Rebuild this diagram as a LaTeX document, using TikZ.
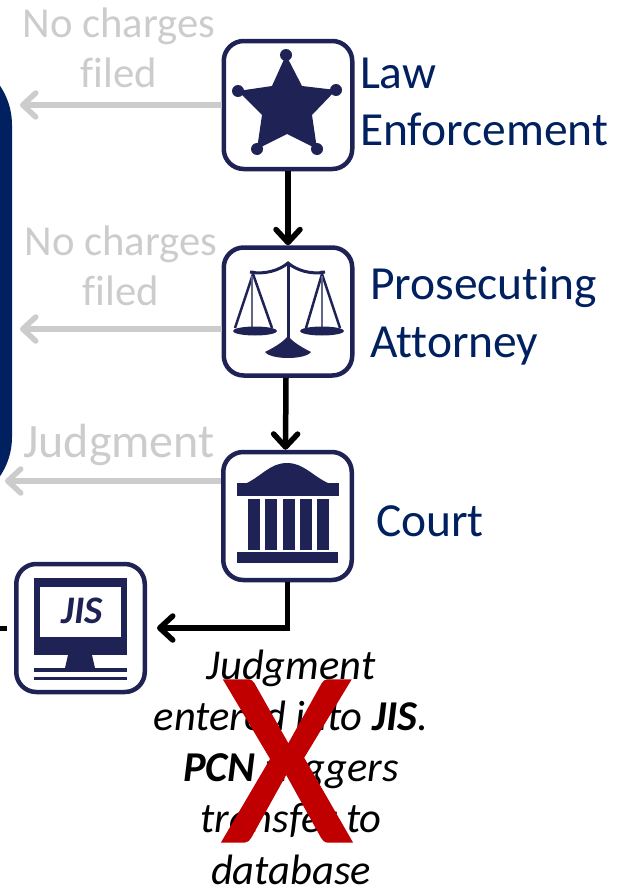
\documentclass[tikz,border=0pt]{standalone}
\usepackage{fontspec}
\setmainfont{Carlito}[Ligatures=NoCommon]
\newfontfamily\crossfont{Carlito}[FakeBold=1.2]
\usetikzlibrary{arrows.meta}

\definecolor{iconblue}{HTML}{1F2255}
\definecolor{textblue}{HTML}{002060}
\definecolor{fadegray}{HTML}{CCCCCC}
\definecolor{crossred}{HTML}{C00000}

\tikzset{
    iconbox/.style={draw=iconblue, line width=4.5, rounded corners=20, minimum width=128.5, minimum height=128, inner sep=0},
    agencybox/.style={draw=textblue, line width=12, rounded corners=64, minimum width=200, minimum height=440, inner sep=0},
    flow/.style={line width=5.5, black, -{Straight Barb[length=13, width=24, round]}},
    fadeflow/.style={line width=5.5, fadegray, -{Straight Barb[length=13, width=24, round]}},
    role/.style={anchor=west, align=left, text=textblue, font=\fontsize{47.5}{57.5}\selectfont},
    fadetext/.style={align=center, text=fadegray, font=\fontsize{42.7}{50.5}\selectfont},
    remark/.style={align=center, font=\fontsize{42.5}{51.2}\selectfont\itshape},
}

\begin{document}
\begin{tikzpicture}[x=1pt, y=-1pt]
    \clip (0,0) rectangle (628,886);

    % box cut by the left edge
    \node[agencybox] (agency) at (-94,281) {};

    % icon boxes
    \node[iconbox] (police) at (288,105) {};
    \node[iconbox] (attorney) at (288,311.5) {};
    \node[iconbox] (court) at (287.5,516) {};
    \node[iconbox] (jis) at (80.5,628) {};

    % star
    \fill[iconblue] (286,55) -- (302,86) -- (336,90) -- (312,115) -- (317,149) -- (287,134) -- (257,149) -- (262,115) -- (238,91) -- (272,86) -- cycle;
    \foreach \px/\py in {286/55, 336/90, 317/149, 257/149, 238/91}
        \fill[iconblue] (\px,\py) circle (6);

    % scales
    \draw[iconblue, line width=3] (288,263) -- (288,340);
    \draw[iconblue, line width=3] (250,272) .. controls (265,275) and (280,270) .. (288,263) .. controls (296,270) and (311,275) .. (325,272);
    \draw[iconblue, line width=2.5] (235,328) -- (253,274) -- (272,328);
    \draw[iconblue, line width=2.5] (306,328) -- (322,274) -- (340,328);
    \draw[iconblue!70, line width=2] (252,276) -- (252,328);
    \draw[iconblue!70, line width=2] (322,276) -- (322,328);
    \fill[iconblue] (255,331) ellipse (22 and 4.5);
    \fill[iconblue] (322,331) ellipse (22 and 4.5);
    \fill[iconblue] (265,352) .. controls (275,347) and (283,342) .. (288,336) .. controls (293,342) and (301,347) .. (311,352) .. controls (305,360) and (271,360) .. (265,352) -- cycle;

    % court building
    \fill[iconblue] (245,484) .. controls (262,476) and (270,463) .. (287,463) .. controls (304,463) and (312,476) .. (330,484) -- cycle;
    \fill[iconblue] (237,483) rectangle (339,496);
    \foreach \cx in {248,265,283,300,317}
        \fill[iconblue] (\cx,499) rectangle (\cx+11.5,550);
    \fill[iconblue] (237,552) rectangle (338,563);

    % monitor
    \fill[iconblue] (34,578) rectangle (127,655);
    \fill[white] (40,587) rectangle (121,637);
    \fill[iconblue] (68,655) -- (92,655) -- (95,668) -- (65,668) -- cycle;
    \fill[iconblue] (34,668) rectangle (127,672);
    \fill[iconblue] (34,677) rectangle (127,679.5);
    \node[text=iconblue, font=\fontsize{39}{39}\selectfont\bfseries\itshape] (jislabel) at (82,611) {JIS};

    % grey arrows
    \coordinate (policeout) at (20,105);
    \coordinate (attorneyout) at (20,329);
    \coordinate (courtout) at (5,481);
    \draw[fadeflow] (police.west) -- (policeout);
    \draw[fadeflow] (attorneyout -| attorney.west) -- (attorneyout);
    \draw[fadeflow] (courtout -| court.west) -- (courtout);

    % grey labels
    \node[fadetext] (nocharges1) at (119,48) {No charges\\filed};
    \node[fadetext] (nocharges2) at (121,266) {No charges\\filed};
    \node[fadetext, font=\fontsize{48}{50.5}\selectfont] (judgment) at (119,445) {Judgment};

    % black arrows
    \draw[flow] (police.south) -- (attorney.north);
    \draw[flow] ([xshift=-2]attorney.south) -- ([xshift=-2]court.north);
    \draw[flow, shorten >=10] (court.south) |- (jis.east);

    % stub left of the monitor
    \coordinate (stubstart) at (0,628);
    \coordinate (stubend) at (7,628);
    \draw[line width=5] (stubstart) -- (stubend);

    % labels
    \node[role] (policelabel) at (356.5,102) {Law\\Enforcement};
    \node[role] (attorneylabel) at (366.5,316) {Prosecuting\\Attorney};
    \node[role] (courtlabel) at (372.5,521) {Court};

    % note
    \node[remark] (note) at (291,767) {Judgment\\entered into \textbf{JIS}.\\\textbf{PCN} triggers\\transfer to\\database};

    % cross
    \node[text=crossred, font=\fontsize{250}{250}\crossfont] (cross) at (287,761) {X};
\end{tikzpicture}
\end{document}
